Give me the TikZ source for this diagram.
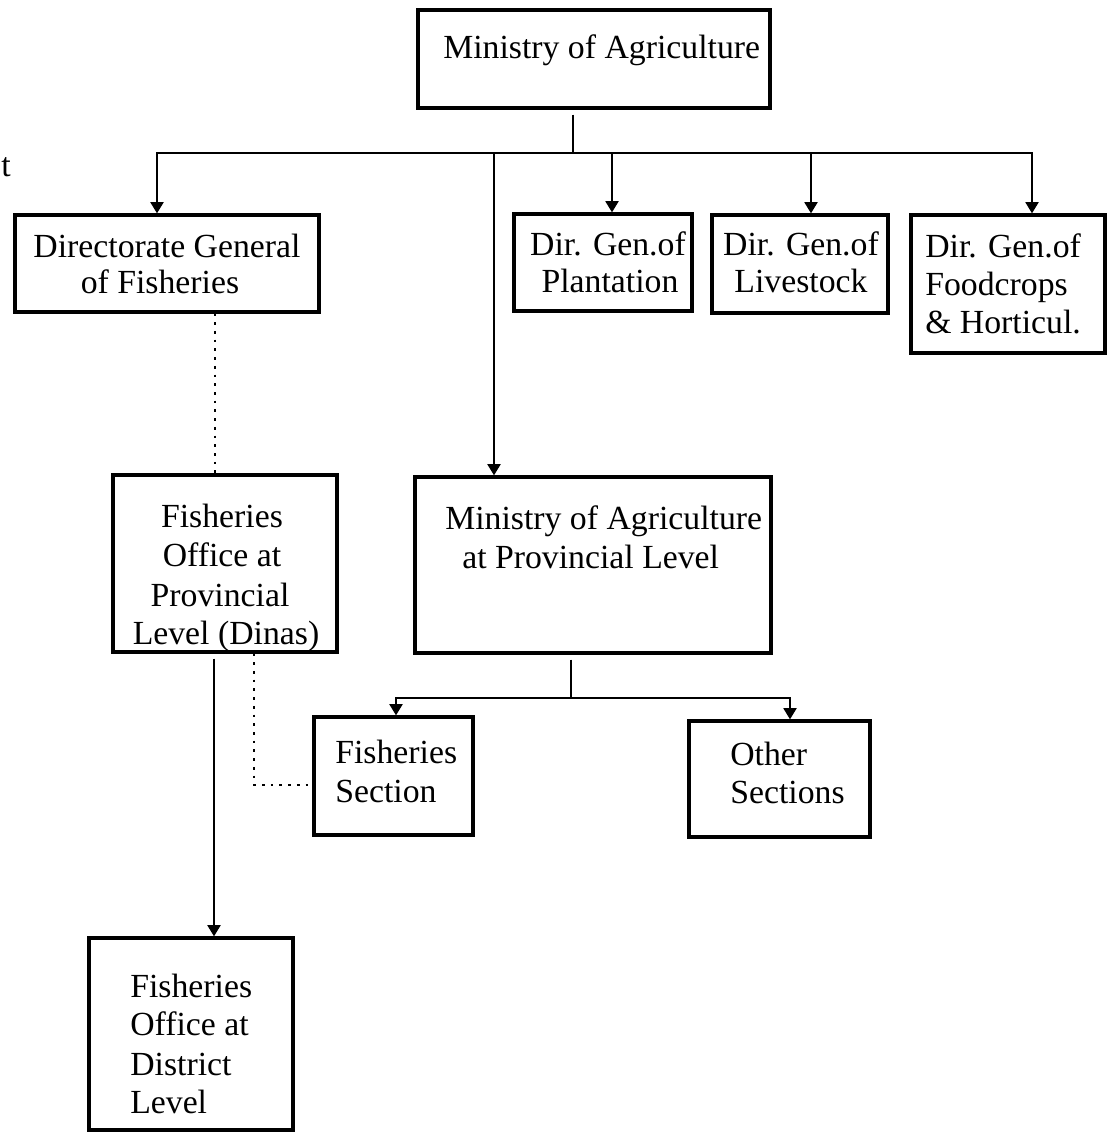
\documentclass[tikz,border=0pt]{standalone}
\usepackage{fontspec}
\setmainfont{Liberation Serif}
\usetikzlibrary{arrows.meta,fit,calc}
\begin{document}
\begin{tikzpicture}[x=0.025cm,y=-0.025cm,
  box/.style={draw=black,line width=2.2pt,inner sep=0pt,rectangle},
  txt/.style={font=\fontsize{24}{28}\selectfont,inner sep=0pt},
  conn/.style={draw=black,line width=2pt},
  arr/.style={conn,-{Triangle[length=8pt,width=9pt]}},
  dots/.style={draw=black,line width=1.9pt,dash pattern=on 1.9pt off 4.3pt}]
\useasboundingbox (0,0) rectangle (1111,1145);

% boxes
\node[box,fit={(418,10) (770,108)}]   (min)  {};
\node[box,fit={(15,215) (319,312)}]   (dgf)  {};
\node[box,fit={(514,214) (692,311)}]  (dgp)  {};
\node[box,fit={(712,215) (888,313)}]  (dgl)  {};
\node[box,fit={(911,215) (1105,353)}] (dfc)  {};
\node[box,fit={(113,475) (337,652)}]  (fop)  {};
\node[box,fit={(415,477) (771,653)}]  (map)  {};
\node[box,fit={(314,717) (473,835)}]  (fsec) {};
\node[box,fit={(689,721) (870,837)}]  (osec) {};
\node[box,fit={(89,938) (293,1130)}]  (fod)  {};

% labels
\node[txt,anchor=base west] (tmin) at (443,58) {Ministry of Agriculture};
\node[txt,anchor=base] (tdgf1) at (167,257) {Directorate General};
\node[txt,anchor=base] (tdgf2) at (160,293) {of Fisheries};
\node[txt,anchor=base] (tdgp1) at (608,255) {Dir. Gen.of};
\node[txt,anchor=base] (tdgp2) at (610,292) {Plantation};
\node[txt,anchor=base] (tdgl1) at (801,255) {Dir. Gen.of};
\node[txt,anchor=base] (tdgl2) at (801,292) {Livestock};
\node[txt,anchor=base west] (tdfc1) at (925,257) {Dir. Gen.of};
\node[txt,anchor=base west] (tdfc2) at (925,295) {Foodcrops};
\node[txt,anchor=base west] (tdfc3) at (925,333) {\& Horticul.};
\node[txt,anchor=base] (tfop1) at (222,527) {Fisheries};
\node[txt,anchor=base] (tfop2) at (222,566) {Office at};
\node[txt,anchor=base] (tfop3) at (220,606) {Provincial};
\node[txt,anchor=base] (tfop4) at (226,644) {Level (Dinas)};
\node[txt,anchor=base west] (tmap1) at (445,529) {Ministry of Agriculture};
\node[txt,anchor=base west] (tmap2) at (462,568) {at Provincial Level};
\node[txt,anchor=base west] (tfsec1) at (335,763) {Fisheries};
\node[txt,anchor=base west] (tfsec2) at (335,802) {Section};
\node[txt,anchor=base west] (tosec1) at (730,765) {Other};
\node[txt,anchor=base west] (tosec2) at (730,803) {Sections};
\node[txt,anchor=base west] (tfod1) at (130,997) {Fisheries};
\node[txt,anchor=base west] (tfod2) at (130,1035) {Office at};
\node[txt,anchor=base west] (tfod3) at (130,1075) {District};
\node[txt,anchor=base west] (tfod4) at (130,1113) {Level};
\node[txt,anchor=base west] (tedge) at (1,176) {t};

% ministry bus
\coordinate (j1) at (573,153);
\coordinate (busL) at (157,153);
\coordinate (busR) at (1032,153);
\coordinate (tm) at (494,153);
\coordinate (tp) at (612,153);
\coordinate (tl) at (811,153);
\draw[conn] ($(min.south -| j1)+(0,5)$) -- (j1);
\draw[arr] (j1) -- (busL) -- (busL |- dgf.north);
\draw[arr] (j1) -- (busR) -- (busR |- dfc.north);
\draw[arr] (tm) -- (tm |- map.north);
\draw[arr] (tp) -- (tp |- dgp.north);
\draw[arr] (tl) -- (tl |- dgl.north);

% provincial ministry bus
\coordinate (j2) at (571,698);
\coordinate (sL) at (396,698);
\coordinate (sR) at (790,698);
\draw[conn] ($(map.south -| j2)+(0,5)$) -- (j2);
\draw[arr] (j2) -- (sL) -- (sL |- fsec.north);
\draw[arr] (j2) -- (sR) -- (sR |- osec.north);

% fisheries line
\coordinate (fx) at (214,0);
\coordinate (dx) at (215,0);
\draw[dots] (dgf.south -| dx) -- (fop.north -| dx);
\draw[arr] ($(fop.south -| fx)+(0,5)$) -- (fod.north -| fx);
\coordinate (dk) at (254,785);
\draw[dots] (fop.south -| dk) -- (dk) -- (dk -| fsec.west);
\end{tikzpicture}
\end{document}
